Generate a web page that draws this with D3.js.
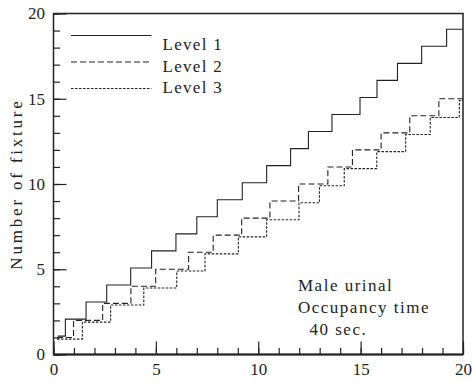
<!DOCTYPE html>
<html>
<head>
<meta charset="utf-8">
<script src="https://cdn.jsdelivr.net/npm/d3@7/dist/d3.min.js"></script>
<style>
  html, body { margin: 0; padding: 0; background: #fff; }
  svg { display: block; }
  text { fill: #222; }
</style>
</head>
<body>
<svg id="chart" width="473" height="383"></svg>
<script>
// ---- data ----
const seriesNames = ["Level 1", "Level 2", "Level 3"];
// x position where each step value begins (step-after), values are number of fixtures
const level1Start = [0.2, 0.58, 1.59, 2.6, 3.77, 4.79, 5.98, 7.0, 8.0, 9.22, 10.41, 11.58, 12.45, 13.6, 14.97, 15.8, 16.8, 17.98, 19.2];
const level1Value = [1, 2, 3, 4, 5, 6, 7, 8, 9, 10, 11, 12, 13, 14, 15, 16, 17, 18, 19];
const level2Start = [0.17, 0.98, 2.4, 3.78, 4.99, 6.6, 7.8, 9.19, 10.57, 11.97, 13.4, 14.6, 16.0, 17.4, 18.82];
const level2Value = [1, 2, 3, 4, 5, 6, 7, 8, 9, 10, 11, 12, 13, 14, 15];
const level3Start = [0.17, 1.41, 2.79, 4.41, 6.02, 7.4, 9.03, 10.41, 11.99, 12.99, 14.2, 15.79, 17.2, 18.4, 19.82];
const level3Value = [1, 2, 3, 4, 5, 6, 7, 8, 9, 10, 11, 12, 13, 14, 15];
const xEnd = 20;
const xTickLabels = [0, 5, 10, 15, 20];
const yTickLabels = [0, 5, 10, 15, 20];
const minorTicks = d3.range(0, 21, 1);
const yAxisTitle = "Number of fixture";
const noteLines = ["Male urinal", "Occupancy time", "  40 sec."];

// ---- layout ----
const svg = d3.select("#chart");
const serifFont = "'Liberation Serif', Tinos, 'Times New Roman', Times, 'DejaVu Serif', 'Noto Serif', serif";
const pLeft = 53.5, pRight = 463, pTop = 13.5, pBottom = 354.5;
const x = d3.scaleLinear().domain([0, 20]).range([pLeft, pRight]);
const y = d3.scaleLinear().domain([0, 20]).range([pBottom, pTop]);
const ink = "#222";
const fontSize = 17;

// series
const series = [
  { name: seriesNames[0], start: level1Start, value: level1Value, dash: null, dy: -1.3 },
  { name: seriesNames[1], start: level2Start, value: level2Value, dash: "6,3", dy: 0 },
  { name: seriesNames[2], start: level3Start, value: level3Value, dash: "2.5,1.5", dy: 1.7 }
];

const line = d3.line()
  .x(d => x(d[0]))
  .y(d => y(d[1]))
  .curve(d3.curveStepAfter);

series.forEach(s => {
  const pts = s.start.map((st, i) => [st, s.value[i]]);
  pts.push([xEnd, s.value[s.value.length - 1]]);
  svg.append("path")
    .datum(pts)
    .attr("d", line)
    .attr("transform", `translate(0,${s.dy})`)
    .attr("fill", "none")
    .attr("stroke", ink)
    .attr("stroke-width", 1.1)
    .attr("stroke-dasharray", s.dash);
});

// axes (ticks pointing inward)
const gx = svg.append("g").attr("transform", `translate(0,${pBottom})`);
gx.append("g").call(d3.axisBottom(x).tickValues(minorTicks).tickSize(-6.5).tickFormat(""));
gx.append("g").call(d3.axisBottom(x).tickValues(xTickLabels).tickSize(-13).tickPadding(8.5).tickFormat(d3.format("d")));
const gy = svg.append("g").attr("transform", `translate(${pLeft},0)`);
gy.append("g").call(d3.axisLeft(y).tickValues(minorTicks).tickSize(-6.5).tickFormat(""));
gy.append("g").call(d3.axisLeft(y).tickValues(yTickLabels).tickSize(-13).tickPadding(8.5).tickFormat(d3.format("d")));
svg.selectAll(".domain").remove();
svg.selectAll("g").attr("font-family", null).attr("font-size", null);
svg.selectAll(".tick line").attr("stroke", ink).attr("stroke-width", 1.2);
svg.selectAll(".tick text")
  .attr("fill", ink)
  .attr("font-family", serifFont)
  .attr("font-size", fontSize);

// frame
svg.append("rect")
  .attr("x", pLeft).attr("y", pTop)
  .attr("width", pRight - pLeft).attr("height", pBottom - pTop)
  .attr("fill", "none").attr("stroke", ink).attr("stroke-width", 1.5);
svg.append("line")
  .attr("x1", pLeft).attr("x2", pRight).attr("y1", pBottom).attr("y2", pBottom)
  .attr("stroke", ink).attr("stroke-width", 2.2);

// y-axis title
svg.append("text")
  .attr("transform", `translate(22,${(pTop + pBottom) / 2}) rotate(-90)`)
  .attr("text-anchor", "middle")
  .attr("font-family", serifFont)
  .attr("font-size", fontSize)
  .attr("letter-spacing", 2.8)
  .text(yAxisTitle);

// legend
const legendLineY = [35.5, 62, 88.5];
const legendTextY = [50, 71.7, 93.3];
series.forEach((s, i) => {
  svg.append("line")
    .attr("x1", 71).attr("x2", 151.5)
    .attr("y1", legendLineY[i]).attr("y2", legendLineY[i])
    .attr("stroke", ink).attr("stroke-width", 1.1)
    .attr("stroke-dasharray", s.dash);
  svg.append("text")
    .attr("x", 162.5).attr("y", legendTextY[i])
    .attr("font-family", serifFont)
    .attr("font-size", fontSize)
    .attr("letter-spacing", 1.3)
    .text(s.name);
});

// annotation
const noteY = [290.7, 313, 335];
noteLines.forEach((t, i) => {
  svg.append("text")
    .attr("x", 298).attr("y", noteY[i])
    .attr("font-family", serifFont)
    .attr("font-size", fontSize)
    .attr("letter-spacing", 1.5)
    .style("white-space", "pre")
    .text(t);
});
</script>
</body>
</html>
